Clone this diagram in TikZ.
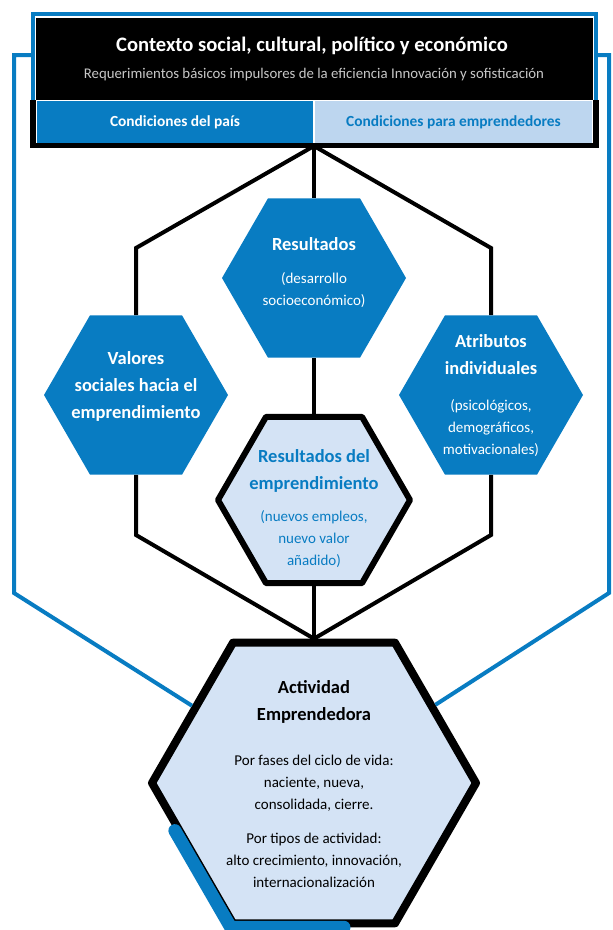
\documentclass[tikz,border=0pt]{standalone}
\usepackage{fontspec}
\setmainfont{Carlito}
\usetikzlibrary{shapes.geometric,positioning,calc}

\definecolor{gemblue}{RGB}{8,124,194}
\definecolor{gempale}{RGB}{212,227,245}
\definecolor{gemlight}{RGB}{189,214,239}
\definecolor{gemgrey}{RGB}{200,200,200}

\newcommand{\hexhead}[1]{{\fontsize{18.5}{26}\selectfont\bfseries #1}}

\tikzset{
    hexa/.style={regular polygon, regular polygon sides=6, inner sep=0pt},
    bluehex/.style={hexa, fill=gemblue, minimum size=184pt},
    palehex/.style={hexa, fill=gempale, draw=black, line join=round},
    link/.style={line width=4pt},
    frame/.style={draw=gemblue, line width=4pt},
    hextext/.style={align=center, inner sep=0pt, font=\fontsize{15}{22}\selectfont},
    condbox/.style={minimum width=276pt, minimum height=42pt, inner sep=0pt,
        font=\fontsize{15.4}{18}\selectfont\bfseries},
}

\begin{document}
\begin{tikzpicture}[x=1pt, y=-1pt]
    \useasboundingbox[fill=white] (0,0) rectangle (613,930);

    % cabecera
    \node[fill=black, minimum width=557pt, minimum height=82pt, inner sep=0pt] (contexto) at (314.5,59) {};
    \node[text=white, font=\fontsize{20.6}{24}\selectfont\bfseries] (titulo) at (312,46) {Contexto social, cultural, político y económico};
    \node[text=gemgrey, font=\fontsize{14.8}{17}\selectfont] (subtitulo) at (314,75) {Requerimientos básicos impulsores de la eficiencia Innovación y sofisticación};
    \node[condbox, fill=gemblue, text=white] (pais) at (175,122) {Condiciones del país};
    \node[condbox, fill=gemlight, text=gemblue, minimum width=277pt] (empr) at (453.5,122) {Condiciones para emprendedores};
    \draw[frame] (33,100) -- (33,14) -- (596,14) -- (596,100);
    \draw[line width=5.5pt] (33,100) -- (33,145.5) -- (596,145.5) -- (596,100);

    % hexagonos
    \node[bluehex] (res) at (314,278) {};
    \node[bluehex] (val) at (136,395) {};
    \node[bluehex] (atr) at (491,395) {};
    \node[palehex, minimum size=192pt, line width=6pt] (emp) at (314,500) {};
    \node[palehex, minimum size=324pt, line width=8pt] (act) at (314,783) {};

    \node[hextext, text=white] (resT) at (314,273) {\hexhead{Resultados}\\[11pt](desarrollo\\socioeconómico)};
    \node[hextext, text=white] (valT) at (136,386) {\hexhead{Valores}\\[5pt]\hexhead{sociales hacia el}\\[5pt]\hexhead{emprendimiento}};
    \node[hextext, text=white] (atrT) at (491,396) {\hexhead{Atributos}\\[5pt]\hexhead{individuales}\\[14pt](psicológicos,\\demográficos,\\motivacionales)};
    \node[hextext, text=gemblue] (empT) at (314,509) {\hexhead{Resultados del}\\[5pt]\hexhead{emprendimiento}\\[10pt](nuevos empleos,\\nuevo valor\\añadido)};
    \node[hextext, text=black] (actT) at (314,784) {\hexhead{Actividad}\\[5pt]\hexhead{Emprendedora}\\[23pt]Por fases del ciclo de vida:\\naciente, nueva,\\consolidada, cierre.\\[12pt]Por tipos de actividad:\\alto crecimiento, innovación,\\internacionalización};

    % conexiones
    \coordinate (hub) at (314,146);
    \coordinate (lknee) at (136,248);
    \coordinate (rknee) at (491,248);
    \coordinate (lfoot) at (136,535);
    \coordinate (rfoot) at (491,535);
    \draw[link] (hub) -- (res);
    \draw[link] (hub) -- (lknee) -- (val);
    \draw[link] (hub) -- (rknee) -- (atr);
    \draw[link] (res) -- (emp);
    \draw[link] (val) -- (lfoot) -- (act.north);
    \draw[link] (atr) -- (rfoot) -- (act.north);
    \draw[link] (emp) -- (act);

    % marco
    \draw[frame] (33,55) -- (14,55) -- (14,593) -- (act);
    \draw[frame] (596,55) -- (609,55) -- (609,593) -- (act);
    \draw[draw=gemblue, line width=13pt, line cap=round]
        ($(act.corner 3)!0.33!(act.corner 4)$) -- (act.corner 4) -- ($(act.corner 4)!0.68!(act.corner 5)$);
\end{tikzpicture}
\end{document}
